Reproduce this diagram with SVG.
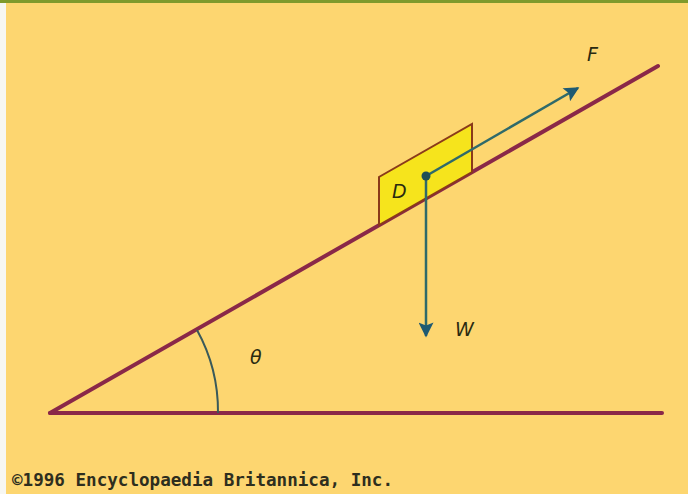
<svg xmlns="http://www.w3.org/2000/svg" width="688" height="494" viewBox="0 0 688 494">
<defs>
<style>
.line{stroke:#8a2848;stroke-width:4;fill:none;stroke-linecap:round}
.vec{stroke:#2f6a6a;stroke-width:2.5;fill:none}
.lbl{font-family:"DejaVu Sans",sans-serif;font-style:italic;font-size:19px;fill:#2a2a10}
</style>
<marker id="ah" viewBox="0 0 10 10" refX="9" refY="5" markerWidth="7" markerHeight="6" orient="auto" markerUnits="strokeWidth">
<path d="M0,0 L10,5 L0,10 L2,5 Z" fill="#1f5a72"/>
</marker>
</defs>
<rect x="0" y="0" width="688" height="494" fill="#fdd670"/>
<rect x="0" y="0" width="6" height="494" fill="#f7f7f2"/>
<rect x="0" y="0" width="688" height="3" fill="#7f9a2c"/>
<g id="ground">
<line class="line" x1="50" y1="413" x2="662" y2="413" stroke="#84304a"/>
</g>
<g id="incline">
<line class="line" x1="50" y1="413" x2="658" y2="66"/>
</g>
<g id="block">
<path d="M379,225 L379,177 L472,124 L472,172 Z" fill="#f6e41c" stroke="#8a3a1a" stroke-width="2"/>
<text class="lbl" x="392" y="198">D</text>
</g>
<g id="angle">
<path d="M197,330 A168,168 0 0 1 218,413" fill="none" stroke="#3a5a5a" stroke-width="2"/>
<text class="lbl" x="250" y="364" font-size="16">θ</text>
</g>
<g id="connectors">
<line class="vec" x1="426" y1="176" x2="578" y2="88" marker-end="url(#ah)"/>
<line class="vec" x1="426" y1="176" x2="426" y2="336" marker-end="url(#ah)"/>
</g>
<circle cx="426" cy="176" r="4.5" fill="#1f4f55"/>
<text class="lbl" x="587" y="61">F</text>
<text class="lbl" x="455" y="336">W</text>
<text x="12" y="486" font-family="DejaVu Sans Mono,monospace" font-size="17" font-weight="bold" fill="#2e2e1e" textLength="381" lengthAdjust="spacingAndGlyphs">©1996 Encyclopaedia Britannica, Inc.</text>
</svg>
